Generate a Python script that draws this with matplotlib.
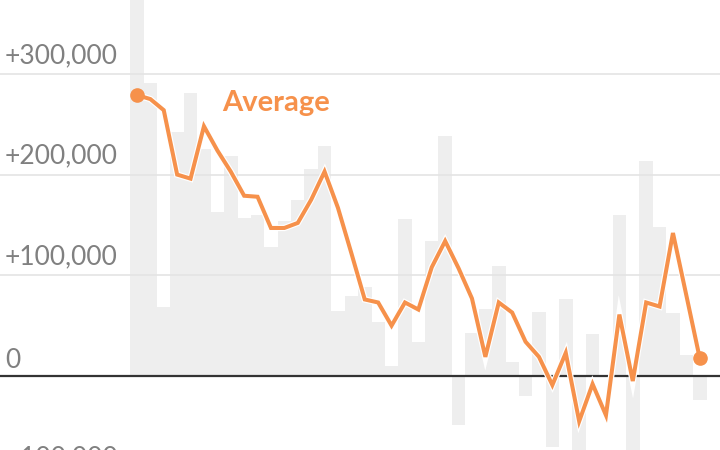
"""Monthly change (gray bars) with the running average line in orange."""
import matplotlib
matplotlib.use("Agg")
import matplotlib.pyplot as plt
import matplotlib.patheffects as pe
import matplotlib.transforms as mtransforms

OUT = "out.png"
GRIS_BARRE, GRILLE, ENCRE, TEXTE = "#eeeeee", "#e4e4e4", "#333333", "#808080"
ORANGE = "#f6914b"

# one bar and one average point per period
monthly = [420000, 291000, 69000, 242000, 281000, 225000, 163000, 218000, 157000,
           160000, 128000, 154000, 175000, 206000, 228000, 65000, 79000, 88000,
           54000, 10000, 156000, 34000, 134000, 238000, -49000, 43000, 67000,
           109000, 14000, -20000, 64000, -71000, 76000, -95000, 42000, 0,
           160000, -90000, 214000, 148000, 63000, 21000, -24000]
average = [279000, 275000, 264000, 200000, 196000, 248000, 224000, 203000, 179000,
           178000, 147000, 147000, 152000, 175000, 203000, 167000, 122000, 76000,
           73000, 50000, 73000, 66000, 108000, 134000, 107000, 77000, 19000,
           73000, 63000, 34000, 19000, -9000, 23000, -45000, -8000, -39000,
           61000, -5000, 73000, 69000, 142000, 80000, 17500]
ticks = [300000, 200000, 100000, 0, -100000]
tick_labels = ["+300,000", "+200,000", "+100,000", "0", "\u2212100,000"]

plt.rcParams["font.family"] = ["Lato", "DejaVu Sans"]

fig = plt.figure(figsize=(7.2, 4.5), dpi=100)
ax = fig.add_axes([0, 0, 1, 1])
idx = list(range(len(monthly)))

ax.bar(idx, monthly, width=1.02, color=GRIS_BARRE, zorder=1)
for v in ticks:
    if v == 0:
        ax.axhline(0, color=ENCRE, lw=1.6, zorder=3)
    else:
        ax.axhline(v, color=GRILLE, lw=1.4, alpha=0.85, zorder=2)

ax.plot(idx, average, color=ORANGE, lw=2.9, zorder=5, solid_joinstyle="miter",
        path_effects=[pe.Stroke(linewidth=4.6, foreground="white"), pe.Normal()])
ax.plot([idx[0], idx[-1]], [average[0], average[-1]], "o", ms=9.5, color=ORANGE,
        mec=ORANGE, zorder=6)
ax.text(6.35, 263000, "Average", color=ORANGE, fontsize=21, weight="bold",
        va="baseline", ha="left", zorder=7)

# tick labels sit above their gridline, flush left
trans = mtransforms.blended_transform_factory(ax.transAxes, ax.transData)
for v, lab in zip(ticks, tick_labels):
    off = 8 if v == 0 else 11
    ax.annotate(lab, xy=(0.007, v), xycoords=trans, xytext=(0, off * 0.72),
                textcoords="offset points", fontsize=19, color=TEXTE,
                va="baseline", ha="left", zorder=7)

ax.set_xlim(-10.22, 43.51)
ax.set_ylim(-73500, 373400)
ax.axis("off")
fig.savefig(OUT, dpi=100)
